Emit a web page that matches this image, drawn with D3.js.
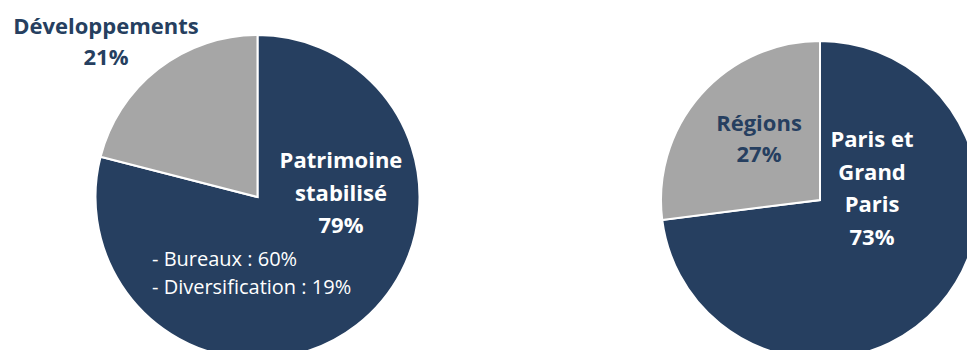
<!DOCTYPE html>
<html>
<head>
<meta charset="utf-8">
<script src="https://cdn.jsdelivr.net/npm/d3@7"></script>
<style>
  body { margin: 0; background: #fff; }
  svg text { font-family: "Open Sans", Lato, sans-serif; }
</style>
</head>
<body>
<svg id="chart"></svg>
<script>
// left pie: patrimoine vs developpements
const leftCategories = ['Patrimoine stabilisé', 'Développements'];
const leftValues = [79, 21];
// right pie: geography
const rightCategories = ['Paris et Grand Paris', 'Régions'];
const rightValues = [73, 27];
const subLines = ['- Bureaux : 60%', '- Diversification : 19%'];

const navy = '#263F60', grey = '#A6A6A6';
const width = 967, height = 350;

const svg = d3.select('#chart')
  .attr('width', width)
  .attr('height', height)
  .attr('viewBox', [0, 0, width, height]);

const pie = d3.pie().sort(null).value(d => d);
const color = d3.scaleOrdinal().domain([0, 1]).range([navy, grey]);

function drawPie(values, cx, cy, r) {
  const g = svg.append('g').attr('transform', `translate(${cx},${cy})`);
  const arc = d3.arc().innerRadius(0).outerRadius(r);
  g.selectAll('path')
    .data(pie(values))
    .enter()
    .append('path')
      .attr('d', arc)
      .attr('fill', (d, i) => color(i))
      .attr('stroke', '#fff')
      .attr('stroke-width', 2);
  return g;
}

function label(lines, x, y, step, fill, weight, size, anchor) {
  const t = svg.append('text')
    .attr('x', x).attr('y', y)
    .attr('fill', fill)
    .attr('font-weight', weight)
    .attr('font-size', size)
    .attr('text-anchor', anchor || 'middle');
  lines.forEach((s, i) => {
    t.append('tspan').attr('x', x).attr('y', y + i * step).text(s);
  });
}

drawPie(leftValues, 257.5, 197, 162);
drawPie(rightValues, 820, 200, 159);

label(['Développements', leftValues[1] + '%'], 106, 34, 31, navy, 700, 22);
label(['Patrimoine', 'stabilisé', leftValues[0] + '%'], 341, 168, 32.5, '#fff', 700, 22);
label(subLines, 152, 266, 28, '#fff', 400, 20, 'start');
label(['Régions', rightValues[1] + '%'], 759, 131, 31, navy, 700, 22);
label(['Paris et', 'Grand', 'Paris', rightValues[0] + '%'], 872, 147, 32.7, '#fff', 700, 22);
</script>
</body>
</html>
